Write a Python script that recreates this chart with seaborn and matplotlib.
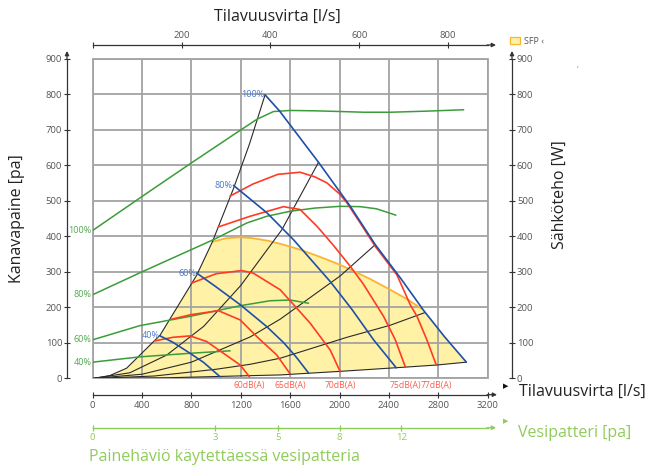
import numpy as np
import pandas as pd
import matplotlib
matplotlib.use("Agg")
import matplotlib.pyplot as plt
import seaborn as sns
from matplotlib.patches import Patch

# ---------------- data (flow m3/h-scale x, pressure Pa / power W y) ----------------
# fan curves (blue) by speed
blue_100 = [(1397, 799), (1513, 754), (1830, 609), (2087, 485), (2290, 377), (2500, 280), (2681, 192), (2850, 118), (3028, 46)]
blue_80 = [(1141, 544), (1411, 467), (1627, 391), (1925, 273), (2100, 195), (2276, 109), (2460, 30)]
blue_60 = [(843, 297), (1000, 258), (1195, 208), (1411, 146), (1550, 100), (1650, 60), (1750, 15)]
blue_40 = [(546, 120), (650, 102), (789, 71), (900, 45), (1032, 5)]
blue_labels = ["100%", "80%", "60%", "40%"]

# sound level curves (red)
red_60 = [(505, 106), (650, 116), (790, 120), (924, 104), (1060, 71), (1195, 38), (1270, 5)]
red_65 = [(640, 167), (800, 180), (1019, 191), (1195, 165), (1330, 118), (1492, 66), (1600, 13)]
red_70 = [(803, 269), (1000, 295), (1208, 304), (1300, 297), (1519, 250), (1654, 198), (1762, 156), (1925, 80), (2006, 19)]
red_75 = [(1019, 427), (1276, 457), (1546, 484), (1681, 476), (1817, 429), (1951, 375), (2087, 316), (2195, 265), (2357, 175), (2452, 109), (2533, 33)]
red_77 = [(1114, 514), (1300, 548), (1500, 575), (1681, 581), (1800, 568), (1898, 551), (2000, 520), (2060, 495), (2168, 438), (2290, 372), (2465, 292), (2573, 208), (2628, 175), (2708, 109), (2784, 38)]
red_labels = ["60dB(A)", "65dB(A)", "70dB(A)", "75dB(A)", "77dB(A)"]

# electrical power curves (green, right axis W)
green_100 = [(0, 417), (397, 512), (803, 608), (1195, 699), (1330, 730), (1465, 752), (1600, 755), (1800, 754), (2006, 752), (2200, 750), (2411, 750), (2700, 753), (3006, 757)]
green_80 = [(0, 236), (397, 300), (978, 391), (1249, 438), (1411, 457), (1600, 471), (1800, 480), (2006, 485), (2168, 484), (2300, 478), (2457, 460)]
green_60 = [(0, 109), (384, 149), (789, 175), (1195, 205), (1438, 219), (1600, 221), (1749, 212)]
green_40 = [(0, 46), (384, 61), (789, 71), (1114, 78)]
green_labels = ["100%", "80%", "60%", "40%"]

# system curves (black)
sys_1 = [(0, 0), (137, 8), (275, 29), (546, 122), (843, 291), (970, 385), (1141, 535), (1270, 660), (1397, 799)]
sys_2 = [(0, 0), (300, 16), (600, 66), (900, 147), (1200, 262), (1533, 419), (1830, 609)]
sys_3 = [(0, 0), (400, 12), (800, 46), (1276, 117), (1519, 167), (2006, 289), (2290, 377)]
sys_4 = [(0, 0), (500, 7), (1000, 26), (1276, 40), (1519, 57), (2060, 116), (2411, 150), (2695, 186)]
sys_5 = [(0, 0), (600, 2), (1276, 8), (1519, 10), (2000, 20), (2533, 32), (2790, 38), (3028, 46)]

# SFP area top edge (orange)
sfp_top = [(970, 385), (1080, 395), (1195, 398), (1300, 395), (1420, 388), (1546, 377), (1681, 363), (1800, 348), (1898, 335), (2006, 320), (2087, 307), (2250, 280), (2411, 250), (2550, 223), (2668, 196)]

# axes ticks
flow_ticks = [0, 400, 800, 1200, 1600, 2000, 2400, 2800, 3200]
pa_ticks = [0, 100, 200, 300, 400, 500, 600, 700, 800, 900]
ls_ticks = [0, 200, 400, 600, 800]
vesi_flow = [0, 990, 1500, 2000, 2500]
vesi_labels = ["0", "3", "5", "8", "12"]

# ---------------- style ----------------
sns.set_theme(style="white")
plt.rcParams["font.family"] = ["Open Sans", "DejaVu Sans"]

C_BLUE = "#1f4fa8"
C_RED = "#ff3b24"
C_GREEN = "#3b9c3b"
C_BLACK = "#2a2a2a"
C_GRID = "#a3a3a3"
C_TICK = "#555555"
C_LGREEN = "#8fcc5a"

def to_df(curves):
    rows = []
    for name, pts in curves.items():
        for i, (x, y) in enumerate(pts):
            rows.append({"curve": name, "i": i, "flow": x, "val": y})
    return pd.DataFrame(rows)

fig = plt.figure(figsize=(6.49, 4.70), dpi=100)
ax = fig.add_axes([0.1428, 0.1947, 0.6085, 0.6798])
ax.set_xlim(0, 3200)
ax.set_ylim(0, 900)

# SFP fill region
s1 = np.array(sys_1)
left = s1[s1[:, 0] < sfp_top[0][0]]
top = np.array(sfp_top)
b100 = np.array(blue_100)
right = b100[b100[:, 0] > sfp_top[-1][0]]
bottom = np.array(sys_5)[::-1]
poly = np.vstack([left, top, right, bottom])
ax.fill(poly[:, 0], poly[:, 1], color="#fff2a6", lw=0, zorder=0.3)
ax.plot(top[:, 0], top[:, 1], color="#fbb432", lw=1.3, zorder=1)

# curves via seaborn
fam = [
    ({"s1": sys_1, "s2": sys_2, "s3": sys_3, "s4": sys_4, "s5": sys_5}, C_BLACK, 0.8),
    ({"g100": green_100, "g80": green_80, "g60": green_60, "g40": green_40}, C_GREEN, 1.1),
    ({"r60": red_60, "r65": red_65, "r70": red_70, "r75": red_75, "r77": red_77}, C_RED, 1.2),
    ({"b100": blue_100, "b80": blue_80, "b60": blue_60, "b40": blue_40}, C_BLUE, 1.2),
]
for curves, col, lw in fam:
    df = to_df(curves)
    sns.lineplot(data=df, x="flow", y="val", units="curve", estimator=None, sort=False,
                 color=col, linewidth=lw, ax=ax, legend=False)

# curve labels
for pts, lab in zip([blue_100, blue_80, blue_60, blue_40], blue_labels):
    ax.annotate(lab, xy=pts[0], xytext=(-0.5, 0), textcoords="offset points",
                ha="right", va="center", fontsize=6.5, color="#4a78c8")
for pts, lab in zip([green_100, green_80, green_60, green_40], green_labels):
    ax.annotate(lab, xy=pts[0], xytext=(-1, 0), textcoords="offset points",
                ha="right", va="center", fontsize=6.5, color="#4fa84f", annotation_clip=False)
for pts, lab in zip([red_60, red_65, red_70, red_75, red_77], red_labels):
    ax.annotate(lab, xy=(pts[-1][0], 0), xytext=(0, -2), textcoords="offset points",
                ha="center", va="top", fontsize=6.2, color="#ff5a4a", annotation_clip=False)

# grid and box
ax.set_xticks(flow_ticks)
ax.set_yticks(pa_ticks)
ax.set_axisbelow(True)
ax.grid(True, color=C_GRID, lw=1.3)
ax.patch.set_edgecolor(C_GRID)
ax.patch.set_linewidth(1.3)
ax.set_xlabel("")
ax.set_ylabel("")
for sp in ["top", "right"]:
    ax.spines[sp].set_visible(False)
ax.spines["left"].set_position(("outward", 18.5))
ax.spines["bottom"].set_position(("outward", 11.7))
for sp in ["left", "bottom"]:
    ax.spines[sp].set_color("#333333")
    ax.spines[sp].set_linewidth(0.9)
ax.tick_params(axis="x", direction="inout", length=5, width=0.8, color="#333333",
               labelcolor=C_TICK, labelsize=6.8, pad=2, bottom=True)
ax.tick_params(axis="y", direction="inout", length=4, width=0.8, color="#333333",
               labelcolor=C_TICK, labelsize=6.8, pad=1.5, left=True)

# right axis (power W)
ax2 = ax.twinx()
ax2.set_ylim(0, 900)
ax2.set_yticks(pa_ticks)
for sp in ["top", "left", "bottom"]:
    ax2.spines[sp].set_visible(False)
ax2.spines["right"].set_position(("outward", 17.6))
ax2.spines["right"].set_color("#333333")
ax2.spines["right"].set_linewidth(0.9)
ax2.tick_params(axis="y", direction="inout", length=4, width=0.8, color="#333333",
                labelcolor=C_TICK, labelsize=6.8, pad=1.5)
ax2.grid(False)

# top axis (l/s)
ax3 = ax.twiny()
ax3.set_xlim(0, 3200 / 3.6)
ax3.set_xticks(ls_ticks)
ax3.set_xticklabels([""] + [str(t) for t in ls_ticks[1:]])
for sp in ["bottom", "left", "right"]:
    ax3.spines[sp].set_visible(False)
ax3.spines["top"].set_position(("outward", 10))
ax3.spines["top"].set_color("#333333")
ax3.spines["top"].set_linewidth(0.9)
ax3.tick_params(axis="x", direction="inout", length=5, width=0.8, color="#333333",
                labelcolor=C_TICK, labelsize=6.8, pad=1.5)
ax3.grid(False)

# water coil axis
ax4 = ax.twiny()
ax4.set_xlim(0, 3200)
ax4.xaxis.tick_bottom()
ax4.set_xticks(vesi_flow)
ax4.set_xticklabels(vesi_labels)
for sp in ["top", "left", "right"]:
    ax4.spines[sp].set_visible(False)
ax4.spines["bottom"].set_position(("outward", 35.4))
ax4.spines["bottom"].set_color(C_LGREEN)
ax4.spines["bottom"].set_linewidth(1.0)
ax4.tick_params(axis="x", direction="inout", length=4, width=0.9, color=C_LGREEN,
                labelcolor=C_LGREEN, labelsize=6.8, pad=2)
ax4.grid(False)

# arrows at axis ends
def arrow(p0, p1, col="#333333"):
    fig.add_artist(matplotlib.patches.FancyArrowPatch(
        p0, p1, transform=None, arrowstyle="-|>", mutation_scale=6,
        color=col, lw=0.9, shrinkA=0, shrinkB=0))

arrow((67, 470 - 59), (67, 470 - 51))
arrow((512, 470 - 59), (512, 470 - 51))
arrow((487, 470 - 45), (496, 470 - 45))
arrow((487, 470 - 394.7), (497, 470 - 394.7))
arrow((487, 470 - 427.7), (496, 470 - 427.7), C_LGREEN)

# texts
W, H = 649, 470
fig.text(277 / W, 1 - 17 / H, "Tilavuusvirta [l/s]", ha="center", va="center", fontsize=11.5, color="#222222")
fig.text(17 / W, 1 - 219 / H, "Kanavapaine [pa]", rotation=90, ha="center", va="center", fontsize=11.5, color="#222222")
fig.text(560 / W, 1 - 195 / H, "Sähköteho [W]", rotation=90, ha="center", va="center", fontsize=11.5, color="#222222")
fig.text(506 / W, 1 - 386 / H, "▶", ha="center", va="center", fontsize=5, color="#111111", family=["DejaVu Sans"])
fig.text(519 / W, 1 - 392 / H, "Tilavuusvirta [l/s]", ha="left", va="center", fontsize=11.5, color="#222222")
fig.text(506 / W, 1 - 421 / H, "▶", ha="center", va="center", fontsize=5, color=C_LGREEN, family=["DejaVu Sans"])
fig.text(518 / W, 1 - 433 / H, "Vesipatteri [pa]", ha="left", va="center", fontsize=11.5, color=C_LGREEN)
fig.text(89 / W, 1 - 457 / H, "Painehäviö käytettäessä vesipatteria", ha="left", va="center", fontsize=11.5, color=C_LGREEN)
fig.text(578 / W, 1 - 66 / H, ",", ha="center", va="center", fontsize=5, color="#666666")

# SFP legend
fig.legend(handles=[Patch(facecolor="#fff2a6", edgecolor="#fbb432", lw=0.9, label="SFP ‹")],
           loc="center left", bbox_to_anchor=(505 / W, 1 - 41 / H), frameon=False,
           fontsize=6.5, handlelength=1.2, handleheight=0.8, handletextpad=0.4,
           borderpad=0, labelcolor=C_TICK)

fig.savefig("out.png", dpi=100)
